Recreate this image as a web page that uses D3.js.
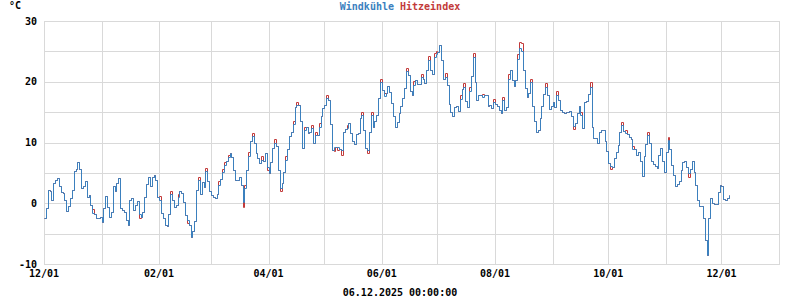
<!DOCTYPE html>
<html>
<head>
<meta charset="utf-8">
<script src="https://cdn.jsdelivr.net/npm/d3@7"></script>
<style>
    body { margin: 0; background: #fff; }
    text { font-family: "DejaVu Sans Mono", "Liberation Mono", monospace; font-weight: bold; font-size: 10px; }
</style>
</head>
<body>
<div id="chart"></div>
<script>
// daily values starting 2024-12-01
const START_DATE = '2024-12-01';
const windchill = [
    -2.4, -0.8, 2.2, 2.0, 0.5, 3.4, 3.9, 4.2, 2.8, 1.9,
    1.7, 0.6, -1.2, -0.5, 0.8, 2.2, 5.3, 5.6, 6.8, 5.6,
    2.5, 2.8, 3.6, 1.1, 1.4, -0.3, -1.6, -1.7, -2.5, -2.5,
    -2.2, -3.1, -0.8, 1.2, -0.6, -2.2, -1.4, 2.8, 2.0, 3.3,
    4.2, -0.8, -1.1, -1.4, -2.8, -3.6, 0.6, 0.9, -1.1, -0.3,
    0.4, -1.7, -2.2, -1.4, 1.1, 3.2, 4.4, 2.8, 4.3, 4.7,
    3.9, 1.1, 0.6, -1.6, -2.5, -3.6, -3.8, -1.7, 1.5, 0.6,
    -0.6, -0.3, 1.1, 2.0, 1.7, 0.2, -1.9, -2.7, -3.5, -5.6,
    -4.5, -3.0, 2.1, 3.8, 1.6, 3.5, 2.7, 5.3, 3.6, 2.0,
    1.4, 1.1, 0.8, 1.6, 3.0, 4.0, 5.2, 6.3, 7.0, 7.6,
    8.2, 7.6, 5.5, 3.8, 3.8, 4.4, 3.0, 0.2, 2.5, 5.5,
    7.8, 10.2, 11.0, 9.9, 8.2, 7.5, 6.6, 7.2, 7.0, 8.2,
    6.0, 4.9, 6.8, 9.1, 10.0, 9.4, 5.5, 2.5, 3.4, 5.2,
    7.2, 9.0, 11.0, 11.8, 13.0, 15.9, 16.2, 16.2, 13.5, 9.1,
    12.0, 12.5, 11.6, 11.8, 12.4, 10.0, 11.2, 11.2, 12.6, 14.3,
    15.6, 16.2, 17.3, 17.0, 13.0, 8.8, 9.3, 9.3, 9.3, 9.0,
    8.8, 11.8, 12.2, 12.4, 13.2, 11.5, 10.2, 9.8, 11.4, 11.6,
    14.0, 14.6, 12.0, 9.1, 8.8, 11.8, 14.6, 12.6, 13.5, 14.5,
    17.4, 20.0, 18.7, 17.6, 18.1, 19.3, 18.3, 16.5, 14.3, 12.6,
    13.4, 14.8, 16.0, 17.4, 19.0, 21.7, 21.1, 18.5, 17.8, 19.5,
    20.3, 19.6, 19.6, 20.8, 20.4, 19.8, 22.0, 23.6, 22.0, 21.3,
    24.1, 24.6, 24.9, 26.0, 23.5, 20.4, 20.8, 19.5, 16.4, 15.0,
    14.3, 15.9, 16.0, 15.2, 17.2, 18.8, 19.2, 16.9, 15.9, 18.5,
    21.0, 24.0, 20.0, 17.0, 17.8, 17.9, 17.5, 17.9, 17.8, 16.0,
    16.2, 15.6, 16.7, 16.4, 16.0, 15.3, 14.8, 17.0, 15.3, 15.9,
    20.5, 21.9, 20.3, 19.3, 20.3, 23.8, 25.5, 25.0, 22.0, 19.0,
    17.5, 18.2, 20.0, 16.0, 13.5, 11.8, 12.0, 14.0, 16.0, 18.0,
    19.2, 17.8, 15.5, 16.0, 16.6, 15.9, 17.8, 17.0, 15.3, 15.1,
    14.9, 15.1, 15.1, 15.2, 14.3, 12.7, 13.2, 14.8, 16.0, 14.5,
    12.4, 16.6, 16.8, 18.0, 19.2, 12.6, 10.8, 10.7, 9.9, 11.8,
    12.0, 12.0, 10.3, 8.6, 6.6, 6.2, 6.0, 7.4, 8.4, 9.6,
    11.8, 12.9, 11.9, 11.6, 11.4, 10.9, 10.6, 9.0, 9.0, 8.0,
    8.5, 6.9, 4.5, 7.8, 9.8, 11.3, 10.0, 7.0, 6.5, 6.1,
    5.8, 8.0, 9.1, 7.0, 5.2, 8.5, 10.4, 9.0, 6.3, 4.7,
    2.8, 3.2, 3.6, 5.5, 6.8, 7.0, 5.9, 4.9, 5.6, 7.0,
    5.2, 3.0, 0.6, -0.4, -0.5, -2.5, -6.0, -8.6, -2.5, 0.8,
    0.1, -0.1, -0.1, 1.9, 3.0, 2.8, 0.7, 0.5, 0.9, 1.3
];

// days where the heat index differs from the wind chill (day offset, value)
const hitzeDays = [26, 51, 62, 68, 72, 77, 83, 87, 94, 96, 97, 99, 107, 108, 110, 112, 117, 120, 124, 127,
    130, 134, 136, 140, 144, 146, 148, 152, 156, 158, 160, 163, 171, 174, 176, 181, 183, 195, 199, 203,
    207, 210, 211, 216, 224, 226, 229, 231, 236, 242, 247, 250, 255, 256, 257, 262, 270, 276, 285, 289,
    294, 305, 311, 313, 317, 325, 336, 347];
const hitzeVals = [-1.0, -2.4, 1.2, 2.0, 1.6, -3.2, 4.3, 5.8, 3.6, 5.7, 6.8, 8.0, -0.6, 3.0, 8.4, 11.5, 7.7, 5.5, 10.5, 2.0,
    7.8, 13.5, 16.6, 12.5, 12.9, 11.8, 13.2, 17.8, 8.6, 8.8, 8.0, 12.9, 15.1, 8.2, 15.1, 20.5, 18.1, 22.3, 20.1, 21.3,
    24.2, 24.7, 25.1, 21.4, 17.8, 19.8, 19.1, 24.8, 18.0, 17.2, 17.5, 21.2, 24.5, 26.6, 26.3, 20.5, 19.8, 18.4, 12.2, 15.0,
    19.9, 5.6, 13.3, 12.1, 9.5, 11.8, 10.9, 4.4];

const yTicks = [-10, 0, 10, 20, 30];
const yGrid = [-10, -5, 0, 5, 10, 15, 20, 25, 30];
const footerText = '06.12.2025 00:00:00';

const BLUE = '#3b80be';
const RED = '#c23a3a';
const GRID = '#d9d9d9';

const width = 800, height = 300;
const margin = { left: 44, right: 779, top: 21, bottom: 264 };

const parse = d3.timeParse('%Y-%m-%d');
const start = parse(START_DATE);

const wcData = windchill.map((v, i) => ({ date: d3.timeDay.offset(start, i), value: v }));
const hiOverride = new Map(hitzeDays.map((d, i) => [d, hitzeVals[i]]));
const hiData = windchill.map((v, i) => ({
    date: d3.timeDay.offset(start, i),
    value: hiOverride.has(i) ? hiOverride.get(i) : v
}));

const svg = d3.select('#chart')
    .append('svg')
    .attr('width', width)
    .attr('height', height);

const xScale = d3.scaleTime()
    .domain([start, parse('2026-01-01')])
    .range([margin.left, margin.right]);

const yScale = d3.scaleLinear()
    .domain([-10, 30])
    .range([margin.bottom, margin.top]);

// snap to pixel centres so 1px strokes stay sharp
const crisp = v => Math.round(v) + 0.5;

// grid
const grid = svg.append('g').attr('stroke', GRID).attr('stroke-width', 1);

grid.selectAll('line.h')
    .data(yGrid)
    .join('line')
    .attr('class', 'h')
    .attr('x1', margin.left)
    .attr('x2', margin.right + 1)
    .attr('y1', d => crisp(yScale(d)))
    .attr('y2', d => crisp(yScale(d)));

const months = xScale.ticks(d3.timeMonth.every(1));
grid.selectAll('line.v')
    .data(months)
    .join('line')
    .attr('class', 'v')
    .attr('x1', d => crisp(xScale(d)))
    .attr('x2', d => crisp(xScale(d)))
    .attr('y1', margin.top)
    .attr('y2', margin.bottom + 1);

// y labels
svg.append('g')
    .selectAll('text')
    .data(yTicks)
    .join('text')
    .attr('x', 37)
    .attr('y', d => yScale(d))
    .attr('dy', '0.35em')
    .attr('text-anchor', 'end')
    .text(d => d);

svg.append('text')
    .attr('x', 9)
    .attr('y', 9)
    .text('°C');

// x labels every second month
const fmt = d3.timeFormat('%m/%d');
svg.append('g')
    .selectAll('text')
    .data(months.filter((d, i) => i % 2 === 0))
    .join('text')
    .attr('x', d => xScale(d))
    .attr('y', 277)
    .attr('text-anchor', 'middle')
    .text(d => fmt(d));

svg.append('text')
    .attr('x', 400)
    .attr('y', 296)
    .attr('text-anchor', 'middle')
    .text(footerText);

// legend title
const title = svg.append('text')
    .attr('x', 400)
    .attr('y', 10)
    .attr('text-anchor', 'middle');
title.append('tspan').attr('fill', BLUE).text('Windkühle');
title.append('tspan').attr('fill', RED).text(' Hitzeindex');

// lines
const line = d3.line()
    .curve(d3.curveStepAfter)
    .x(d => crisp(xScale(d.date)))
    .y(d => crisp(yScale(d.value)));

svg.append('path')
    .datum(hiData)
    .attr('fill', 'none')
    .attr('stroke', RED)
    .attr('stroke-width', 1)
    .attr('d', line);

svg.append('path')
    .datum(wcData)
    .attr('fill', 'none')
    .attr('stroke', BLUE)
    .attr('stroke-width', 1)
    .attr('d', line);
</script>
</body>
</html>
